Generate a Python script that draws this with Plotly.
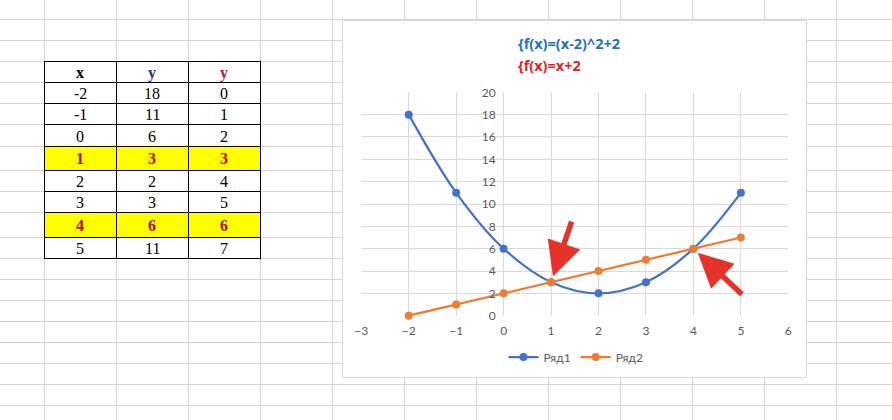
import plotly.graph_objects as go

# ---- data ----
x_vals = [-2, -1, 0, 1, 2, 3, 4, 5]
y1_vals = [18, 11, 6, 3, 2, 3, 6, 11]   # f(x)=(x-2)^2+2
y2_vals = [0, 1, 2, 3, 4, 5, 6, 7]      # f(x)=x+2
series_names = ["Ряд1", "Ряд2"]
header_labels = ["x", "y", "y"]
title_lines = ["{f(x)=(x-2)^2+2", "{f(x)=x+2"]
x_range = [-3, 6]
y_range = [0, 20]

W, H = 892, 420
def px(v):
    return v / W
def py(v):
    return 1 - v / H

GRID = "#d4d4d4"
shapes = []
annotations = []

# ---- spreadsheet table row geometry ----
header_h = 21.0
row_h = 21.1
hi_row_h = 24.6
table_top = 61.3
col_edges = [44 + 72 * k for k in range(4)]
row_edges = [table_top, table_top + header_h]
highlight = [a == b for a, b in zip(y1_vals, y2_vals)]
for h in highlight:
    row_edges.append(row_edges[-1] + (hi_row_h if h else row_h))

sheet_rows = [19.3, 40.3] + row_edges + [row_edges[-1] + 21 * k for k in range(1, 8)]
sheet_cols = [44 + 72 * k for k in range(13)]

# spreadsheet gridlines
for yy in sheet_rows:
    yr = round(yy) + 0.5
    shapes.append(dict(type="line", xref="paper", yref="paper", x0=0, x1=1, y0=py(yr), y1=py(yr),
                       line=dict(color=GRID, width=1), layer="below"))
for xx in sheet_cols:
    xr = round(xx) + 0.5
    shapes.append(dict(type="line", xref="paper", yref="paper", x0=px(xr), x1=px(xr), y0=0, y1=1,
                       line=dict(color=GRID, width=1), layer="below"))

# table: yellow highlighted rows
for i, h in enumerate(highlight):
    if h:
        shapes.append(dict(type="rect", xref="paper", yref="paper",
                           x0=px(col_edges[0]), x1=px(col_edges[-1]),
                           y0=py(row_edges[i + 1]), y1=py(row_edges[i + 2]),
                           fillcolor="#ffff00", line=dict(width=0), layer="below"))
# table borders
for yy in row_edges:
    yr = round(yy) + 0.5
    shapes.append(dict(type="line", xref="paper", yref="paper", x0=px(col_edges[0]), x1=px(col_edges[-1] + 1),
                       y0=py(yr), y1=py(yr), line=dict(color="#000000", width=1), layer="below"))
for xx in col_edges:
    xr = round(xx) + 0.5
    shapes.append(dict(type="line", xref="paper", yref="paper", x0=px(xr), x1=px(xr),
                       y0=py(row_edges[0]), y1=py(row_edges[-1]), line=dict(color="#000000", width=1),
                       layer="below"))

col_centers = [(col_edges[i] + col_edges[i + 1]) / 2 for i in range(3)]
header_colors = ["#000000", "#1f3a8a", "#c0143c"]
for j, lab in enumerate(header_labels):
    annotations.append(dict(xref="paper", yref="paper", x=px(col_centers[j]),
                            y=py((row_edges[0] + row_edges[1]) / 2 + 1), text="<b>%s</b>" % lab,
                            showarrow=False, xanchor="center", yanchor="middle",
                            font=dict(family="Liberation Serif", size=16, color=header_colors[j])))
for i, (xv, a, b) in enumerate(zip(x_vals, y1_vals, y2_vals)):
    yc = py((row_edges[i + 1] + row_edges[i + 2]) / 2 + 1)
    for j, v in enumerate([xv, a, b]):
        if highlight[i]:
            txt = "<b>%d</b>" % v
            col = "#c00000"
        else:
            txt = "%d" % v
            col = "#000000"
        annotations.append(dict(xref="paper", yref="paper", x=px(col_centers[j]), y=yc, text=txt,
                                showarrow=False, xanchor="center", yanchor="middle",
                                font=dict(family="Liberation Serif", size=16, color=col)))

# chart box (white, covers sheet grid)
shapes.append(dict(type="rect", xref="paper", yref="paper", x0=px(342.5), x1=px(806.5),
                   y0=py(377.5), y1=py(20.5), fillcolor="#ffffff",
                   line=dict(color="#d9d9d9", width=1), layer="below"))

# chart titles
title_colors = ["#2371b8", "#e21f1f"]
for k, (t, c) in enumerate(zip(title_lines, title_colors)):
    annotations.append(dict(xref="paper", yref="paper", x=px(516.0), y=py(43.5 + 22 * k),
                            text="<b>%s</b>" % t, showarrow=False, xanchor="left", yanchor="middle",
                            font=dict(family="Open Sans", size=14.5, color=c)))

# ---- plot area ----
plot_l, plot_r, plot_t, plot_b = 361.3, 788.3, 92.3, 315.7
x_zero_px = plot_l + (0 - x_range[0]) / (x_range[1] - x_range[0]) * (plot_r - plot_l)

fig = go.Figure()
fig.add_trace(go.Scatter(x=x_vals, y=y1_vals, name=series_names[0], mode="lines+markers",
                         line=dict(color="#4472c4", width=2.25, shape="spline", smoothing=1.0),
                         marker=dict(size=8, color="#4472c4"), cliponaxis=False))
fig.add_trace(go.Scatter(x=x_vals, y=y2_vals, name=series_names[1], mode="lines+markers",
                         line=dict(color="#ed7d31", width=2.25),
                         marker=dict(size=8, color="#ed7d31"), cliponaxis=False))

# arrows pointing at the intersection points
cross = [(xv, a) for xv, a, b in zip(x_vals, y1_vals, y2_vals) if a == b]
arrow_offsets = [(21, -62), (50, 47)]
for (cx, cy), (ax, ay) in zip(cross, arrow_offsets):
    annotations.append(dict(x=cx, y=cy, xref="x", yref="y", text="", showarrow=True,
                            ax=ax, ay=ay, axref="pixel", ayref="pixel",
                            arrowhead=2, arrowsize=1.25, arrowwidth=5.5, arrowcolor="#e5332a",
                            standoff=6))

tick_font = dict(family="Lato", size=12, color="#595959")
fig.update_layout(
    width=W, height=H,
    margin=dict(l=0, r=0, t=0, b=0, pad=0, autoexpand=False),
    paper_bgcolor="#ffffff", plot_bgcolor="rgba(0,0,0,0)",
    shapes=shapes, annotations=annotations,
    showlegend=True,
    legend=dict(orientation="h", x=px(576), xanchor="center", y=py(357), yanchor="middle",
                font=dict(family="Lato", size=12, color="#595959"), bgcolor="rgba(0,0,0,0)",
                itemwidth=30),
    xaxis=dict(domain=[px(plot_l), px(plot_r)], range=x_range, tickmode="linear", tick0=-3, dtick=1,
               showgrid=True, gridcolor="#d9d9d9", gridwidth=1, zeroline=False, showline=False,
               tickfont=tick_font, ticks="", ticklabelstandoff=6, anchor="y", automargin=False),
    yaxis=dict(domain=[py(plot_b), py(plot_t)], range=y_range, tickmode="linear", tick0=0, dtick=2,
               showgrid=True, gridcolor="#d9d9d9", gridwidth=1, zeroline=False, showline=False,
               tickfont=tick_font, ticks="", ticklabelstandoff=8, automargin=False,
               anchor="free", position=px(x_zero_px)),
    hovermode=False,
)

fig.write_html("out.html", config={"displayModeBar": False},
               post_script="document.body.style.margin='0';")
